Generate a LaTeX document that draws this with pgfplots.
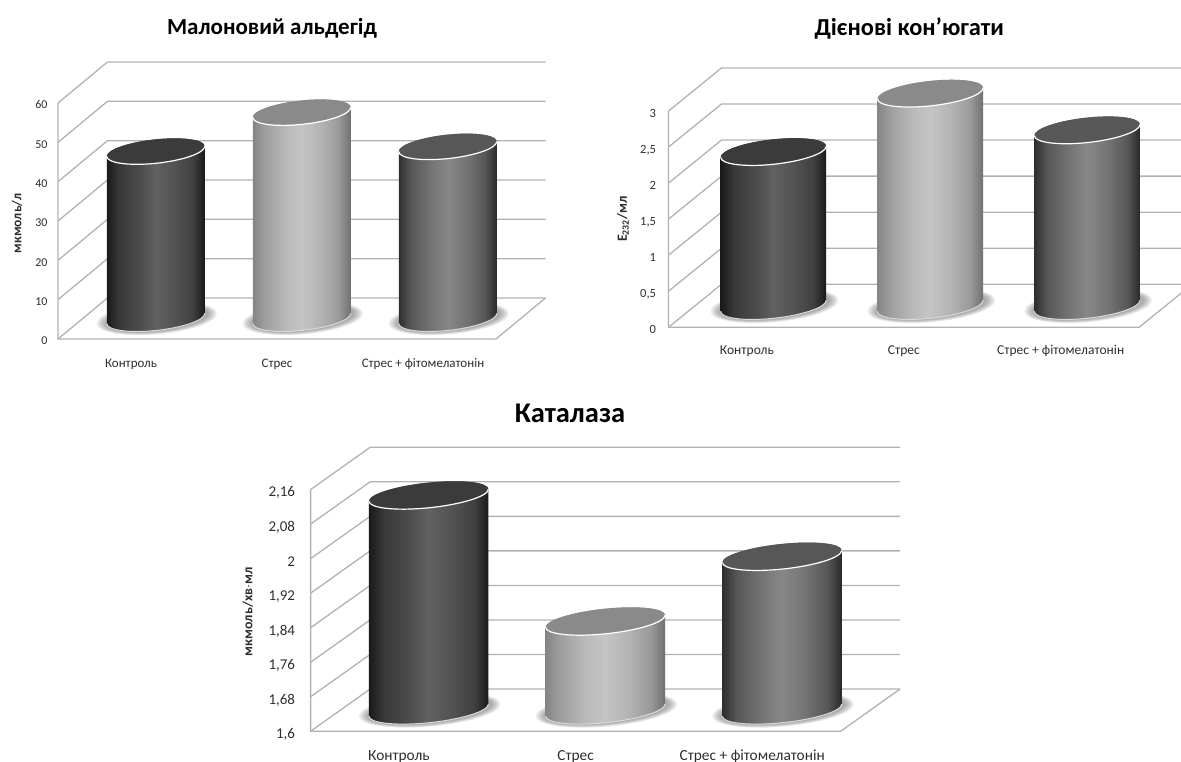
\documentclass[border=0pt]{standalone}
\usepackage{fontspec}
\setmainfont{Carlito}
\usepackage{pgfplots}
\pgfplotsset{compat=1.18}

\definecolor{wallline}{gray}{0.70}
\definecolor{labeltext}{gray}{0.18}
\definecolor{haloink}{gray}{0.32}

% Colour bands across the width of each cylinder (the 25bp..75bp span is what gets used)
\pgfdeclarehorizontalshading{shadeDark}{100bp}{
  color(0bp)=(black!90); color(25bp)=(black!90); color(31bp)=(black!78);
  color(42bp)=(black!70); color(50bp)=(black!62); color(60bp)=(black!68);
  color(69bp)=(black!75); color(75bp)=(black!90); color(100bp)=(black!90)}
\pgfdeclarehorizontalshading{shadeLight}{100bp}{
  color(0bp)=(black!48); color(25bp)=(black!48); color(31bp)=(black!38);
  color(42bp)=(black!27); color(50bp)=(black!23); color(60bp)=(black!30);
  color(69bp)=(black!40); color(75bp)=(black!56); color(100bp)=(black!56)}
\pgfdeclarehorizontalshading{shadeMid}{100bp}{
  color(0bp)=(black!82); color(25bp)=(black!82); color(31bp)=(black!66);
  color(42bp)=(black!54); color(50bp)=(black!47); color(60bp)=(black!55);
  color(69bp)=(black!66); color(75bp)=(black!84); color(100bp)=(black!84)}
\definecolor{topDark}{gray}{0.23}
\definecolor{topLight}{gray}{0.54}
\definecolor{topMid}{gray}{0.34}

\newdimen\cylH
% Soft shadow: one ellipse of a stack round the foot of the cylinder
\newcommand\cylhalo[1]{%
  \pgfpathellipse{\pgfpoint{1pt}{0pt}}{\pgfpoint{\cylA+#1}{\cylO}}{\pgfpoint{0pt}{\cylB+0.35*#1}}%
  \pgfusepathqfill}
% Plot mark placed at the top centre of a cylinder; its height follows the plotted value
\newcommand\cylinderbody[2]{%
  \cylH=\cylval pt \advance\cylH by -\cylMin pt \cylH=\cylS\cylH
  \pgfscope
    \pgftransformyshift{-\cylH}%
    \pgfsetfillcolor{haloink}\pgfsetfillopacity{0.12}%
    \cylhalo{11pt}\cylhalo{9pt}\cylhalo{7pt}\cylhalo{5pt}\cylhalo{3pt}%
  \endpgfscope
  \pgfscope
    \pgfpathmoveto{\pgfpoint{-\cylA}{-\cylO-\cylH}}%
    \pgfpatharcaxes{180}{360}{\pgfpoint{\cylA}{\cylO}}{\pgfpoint{0pt}{\cylB}}%
    \pgfpathlineto{\pgfpoint{\cylA}{\cylO}}%
    \pgfpatharcaxes{0}{180}{\pgfpoint{\cylA}{\cylO}}{\pgfpoint{0pt}{\cylB}}%
    \pgfpathclose
    \pgfshadepath{#1}{0}%
    \pgfusepath{discard}%
  \endpgfscope
  \pgfscope
    \pgftransformyshift{-\cylH}%
    \pgfsetstrokecolor{black!15}\pgfsetlinewidth{1pt}%
    \pgfpathmoveto{\pgfpoint{-\cylA}{-\cylO}}%
    \pgfpatharcaxes{180}{360}{\pgfpoint{\cylA}{\cylO}}{\pgfpoint{0pt}{\cylB}}%
    \pgfusepathqstroke
  \endpgfscope
  \pgfscope
    \pgfsetfillcolor{#2}%
    \pgfpathellipse{\pgfpointorigin}{\pgfpoint{\cylA}{\cylO}}{\pgfpoint{0pt}{\cylB}}%
    \pgfusepathqfill
    \pgfsetstrokecolor{white}\pgfsetlinewidth{1.2pt}%
    \pgfpathmoveto{\pgfpoint{-\cylA}{-\cylO}}%
    \pgfpatharcaxes{180}{360}{\pgfpoint{\cylA}{\cylO}}{\pgfpoint{0pt}{\cylB}}%
    \pgfusepathqstroke
  \endpgfscope}
\pgfdeclareplotmark{cylDark}{\cylinderbody{shadeDark}{topDark}}
\pgfdeclareplotmark{cylLight}{\cylinderbody{shadeLight}{topLight}}
\pgfdeclareplotmark{cylMid}{\cylinderbody{shadeMid}{topMid}}

% Back wall, side wall and floor of the chart box
% #1 levels, #2 dx, #3 dy, #4 length of the back lines, #5 lowest level, #6 highest level
\newcommand\chartbox[6]{%
  \pgfplotsinvokeforeach{#1}{%
    \draw[wallline,line width=1.3pt] (axis cs:-0.5,##1) -- ++(#2,#3) -- ++(#4,0pt);}
  \draw[wallline,line width=1.3pt] (axis cs:-0.5,#6) -- (axis cs:-0.5,#5) -- (axis cs:2.5,#5) -- ++(#2,#3);}

\pgfplotsset{
  chartaxis/.style={
    scale only axis, clip=false,
    xmin=-0.5, xmax=2.5,
    axis line style={draw=none}, tick style={draw=none},
    xtick={0,1,2},
    xticklabels={Контроль,Стрес,Стрес + фітомелатонін},
    typeset ticklabels with strut,
    enlargelimits=false,
    /pgf/number format/assume math mode=true,
    /pgf/number format/use comma,
    tick label style={text=labeltext},
    title style={font=\bfseries\color{black}, anchor=center},
    ylabel style={font=\bfseries\color{labeltext}, anchor=center, rotate=0},
  },
  cylinder/.style={scatter, only marks, scatter src=y, mark=#1,
    visualization depends on={rawy \as \cylval}},
}

\begin{document}
\begin{tikzpicture}
\useasboundingbox (0pt,0pt) rectangle (1181pt,762pt);

% Malondialdehyde
\def\cylA{49pt}\def\cylO{5pt}\def\cylB{12pt}\def\cylS{3.933}\def\cylMin{0}
\begin{axis}[chartaxis,
  at={(58pt,423pt)}, anchor=south west, width=438pt, height=236pt,
  ymin=0, ymax=60, ytick={0,10,20,30,40,50,60},
  x tick label style={font=\fontsize{13}{15}\selectfont, yshift=-14pt},
  y tick label style={font=\fontsize{12}{14}\selectfont, xshift=-7pt, yshift=-3pt},
  title={\fontsize{23}{26}\selectfont Малоновий альдегід},
  title style={at={(axis description cs:0.4886,1.292)}},
  ylabel={\fontsize{13.5}{15}\selectfont мкмоль/л},
  ylabel style={at={(axis description cs:-0.094,0.49)}},
]
\chartbox{0,10,20,30,40,50,60}{49.5pt}{41pt}{438pt}{0}{60}
\addplot[cylinder=cylDark,  xshift=24.75pt, yshift=20.5pt] coordinates {(0,42.5)};
\addplot[cylinder=cylLight, xshift=24.75pt, yshift=20.5pt] coordinates {(1,52.4)};
\addplot[cylinder=cylMid,   xshift=24.75pt, yshift=20.5pt] coordinates {(2,43.7)};
\end{axis}

% Diene conjugates
\def\cylA{52.8pt}\def\cylO{5.5pt}\def\cylB{12.5pt}\def\cylS{72.1}\def\cylMin{0}
\begin{axis}[chartaxis,
  at={(668.5pt,434.7pt)}, anchor=south west, width=470.6pt, height=216.3pt,
  ymin=0, ymax=3, ytick={0,0.5,1,1.5,2,2.5,3},
  x tick label style={font=\fontsize{13.5}{15}\selectfont, yshift=-13pt},
  y tick label style={font=\fontsize{12.5}{14}\selectfont, xshift=-9pt, yshift=-3.5pt},
  title={\fontsize{24.4}{27}\selectfont Дієнові кон'югати},
  title style={at={(axis description cs:0.5115,1.353)}},
  ylabel={\fontsize{14}{16}\selectfont Е\textsubscript{232}/мл},
  ylabel style={at={(axis description cs:-0.0967,0.5)}},
]
\chartbox{0,0.5,1,1.5,2,2.5,3}{53pt}{43pt}{459.5pt}{0}{3}
\addplot[cylinder=cylDark,  xshift=26.5pt, yshift=21.5pt] coordinates {(0,2.136)};
\addplot[cylinder=cylLight, xshift=26.5pt, yshift=21.5pt] coordinates {(1,2.946)};
\addplot[cylinder=cylMid,   xshift=26.5pt, yshift=21.5pt] coordinates {(2,2.437)};
\end{axis}

% Catalase
\def\cylA{59.7pt}\def\cylO{6pt}\def\cylB{12.6pt}\def\cylS{431.6}\def\cylMin{1.6}
\begin{axis}[chartaxis,
  at={(310.6pt,30.7pt)}, anchor=south west, width=530pt, height=241.7pt,
  ymin=1.6, ymax=2.16, ytick={1.6,1.68,1.76,1.84,1.92,2,2.08,2.16},
  /pgf/number format/precision=2,
  x tick label style={font=\fontsize{15.4}{17}\selectfont, yshift=-13.5pt},
  y tick label style={font=\fontsize{15}{17}\selectfont, xshift=-12pt, yshift=-4pt},
  title={\fontsize{28.5}{31}\selectfont Каталаза},
  title style={at={(axis description cs:0.4894,1.289)}},
  ylabel={\fontsize{13.9}{16}\selectfont мкмоль/хв$\cdot$мл},
  ylabel style={at={(axis description cs:-0.1187,0.494)}},
]
\chartbox{1.6,1.68,1.76,1.84,1.92,2,2.08,2.16}{59.5pt}{42.3pt}{530pt}{1.6}{2.16}
\addplot[cylinder=cylDark,  xshift=29.75pt, yshift=21.15pt] coordinates {(0,2.098)};
\addplot[cylinder=cylLight, xshift=29.75pt, yshift=21.15pt] coordinates {(1,1.806)};
\addplot[cylinder=cylMid,   xshift=29.75pt, yshift=21.15pt] coordinates {(2,1.956)};
\end{axis}
\end{tikzpicture}
\end{document}
